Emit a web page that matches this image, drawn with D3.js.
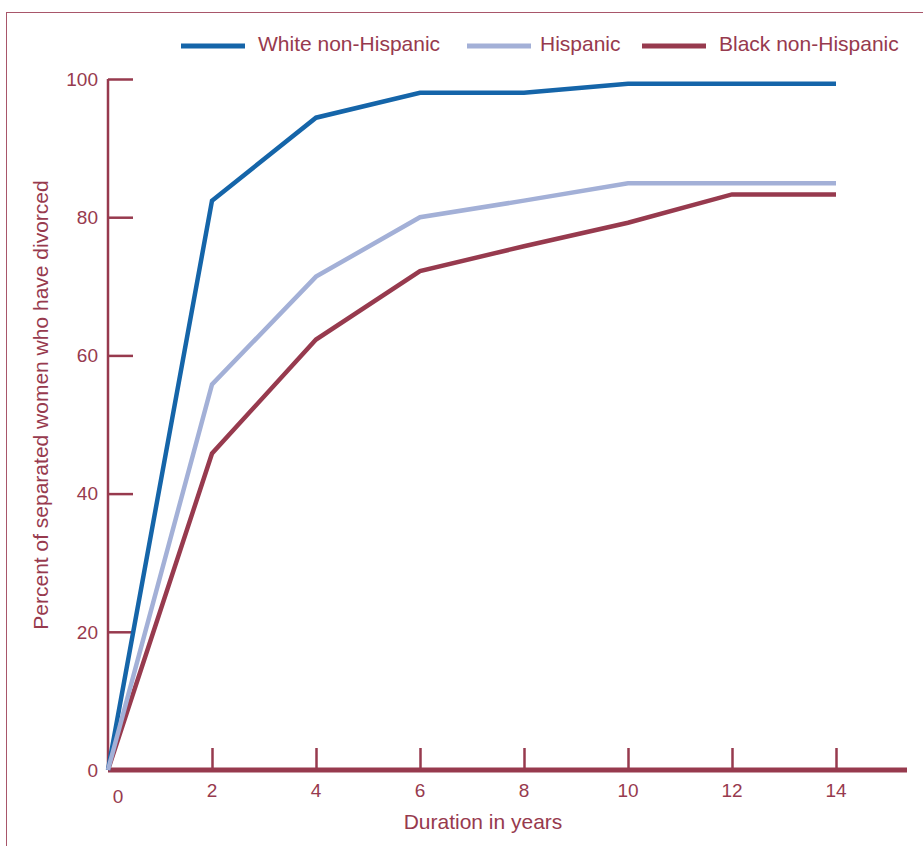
<!DOCTYPE html>
<html><head><meta charset="utf-8">
<script src="https://cdn.jsdelivr.net/npm/d3@7"></script>
<style>
html,body{margin:0;padding:0;background:#fff;}
svg{display:block;font-family:"Liberation Sans",Arial,Helvetica,sans-serif;}
</style></head>
<body>
<svg id="chart" width="923" height="846"></svg>
<script>
const years = [0, 2, 4, 6, 8, 10, 12, 14];
const whiteNonHispanic = [0, 82.4, 94.4, 98.0, 98.0, 99.3, 99.3, 99.3];
const hispanic = [0, 55.8, 71.4, 80.0, 82.4, 84.9, 84.9, 84.9];
const blackNonHispanic = [0, 45.8, 62.3, 72.2, 75.8, 79.2, 83.3, 83.3];
const seriesNames = ["White non-Hispanic", "Hispanic", "Black non-Hispanic"];
const seriesColors = ["#1565a9", "#a3b0d7", "#973a4e"];
const xTicks = [0, 2, 4, 6, 8, 10, 12, 14];
const yTicks = [0, 20, 40, 60, 80, 100];

const axisColor = "#973a4e";
const svg = d3.select("#chart");

// frame
svg.append("rect").attr("x", 6.5).attr("y", 12.5).attr("width", 940).attr("height", 860)
  .attr("fill", "none").attr("stroke", "#a8566a").attr("stroke-width", 1);

const x = d3.scaleLinear().domain([0, 14]).range([108, 836]);
const y = d3.scaleLinear().domain([0, 100]).range([770, 79]);

// Y axis
const yAxis = d3.axisRight(y).tickValues(yTicks).tickSize(25).tickFormat("");
const gy = svg.append("g").attr("transform", "translate(108,0)").call(yAxis);
gy.select(".domain").attr("stroke", axisColor).attr("stroke-width", 2.5).attr("d", `M0,${y(0)}V${y(100)}`);
gy.selectAll(".tick line").attr("stroke", axisColor).attr("stroke-width", 2.5);
svg.append("g").selectAll("text").data(yTicks).join("text")
  .attr("x", 98).attr("y", d => y(d)).attr("dy", "0.36em")
  .attr("text-anchor", "end").attr("font-size", 19).attr("fill", axisColor)
  .text(d => d);

// X axis
const xAxis = d3.axisTop(x).tickValues(xTicks.filter(d => d > 0)).tickSize(22).tickFormat("");
const gx = svg.append("g").attr("transform", `translate(0,${y(0)})`).call(xAxis);
gx.select(".domain").remove();
gx.selectAll(".tick line").attr("stroke", axisColor).attr("stroke-width", 2.5);
svg.append("line").attr("x1", 108).attr("x2", 907).attr("y1", y(0)).attr("y2", y(0))
  .attr("stroke", axisColor).attr("stroke-width", 5);
svg.append("g").selectAll("text").data(xTicks).join("text")
  .attr("x", d => d === 0 ? x(d) + 10 : x(d)).attr("y", d => d === 0 ? 803 : 797)
  .attr("text-anchor", "middle").attr("font-size", 19).attr("fill", axisColor)
  .text(d => d);

// axis titles
svg.append("text").attr("x", 483).attr("y", 829).attr("text-anchor", "middle")
  .attr("font-size", 21).attr("fill", axisColor).text("Duration in years");
svg.append("text").attr("transform", "translate(48,405) rotate(-90)").attr("text-anchor", "middle")
  .attr("font-size", 21).attr("fill", axisColor).text("Percent of separated women who have divorced");

// lines
const seriesData = [whiteNonHispanic, hispanic, blackNonHispanic];
const line = d3.line().x((d, i) => x(years[i])).y(d => y(d));
const order = [2, 0, 1];
order.forEach(k => {
  svg.append("path").datum(seriesData[k]).attr("d", line)
    .attr("fill", "none").attr("stroke", seriesColors[k]).attr("stroke-width", 4.5)
    .attr("stroke-linejoin", "miter");
});

// legend
const legendX = [181, 467, 642];
const legendTextX = [258, 540, 719];
const legend = svg.append("g");
seriesNames.forEach((name, i) => {
  legend.append("line").attr("x1", legendX[i]).attr("x2", legendX[i] + 64)
    .attr("y1", 46).attr("y2", 46).attr("stroke", seriesColors[i]).attr("stroke-width", 5);
  legend.append("text").attr("x", legendTextX[i]).attr("y", 51)
    .attr("font-size", 21).attr("fill", axisColor).text(name);
});
</script>
</body></html>
